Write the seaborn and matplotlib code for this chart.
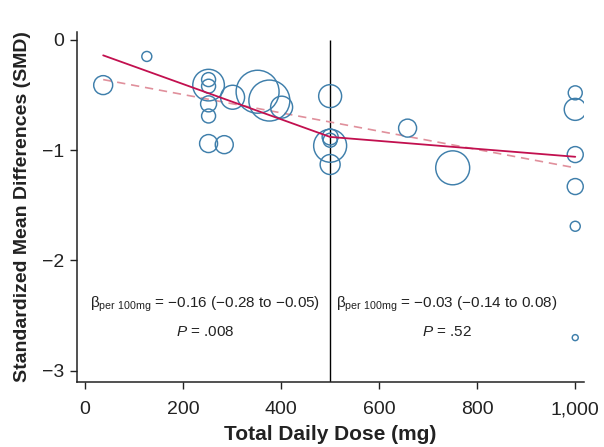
import matplotlib
matplotlib.use("Agg")
import matplotlib.pyplot as plt
import seaborn as sns
import pandas as pd
import numpy as np

# ---- data ----
dose = [37, 126, 252, 252, 252, 252, 252, 252, 284, 301, 352, 376, 401,
        500, 500, 500, 500, 500, 658, 750, 1000, 1000, 1000, 1000, 1000, 1000]
smd = [-0.41, -0.15, -0.41, -0.36, -0.42, -0.58, -0.69, -0.94, -0.95, -0.52,
       -0.47, -0.55, -0.61, -0.51, -0.88, -0.91, -0.96, -1.13, -0.80, -1.16,
       -0.48, -0.63, -1.04, -1.33, -1.69, -2.70]
weight = [90, 25, 250, 49, 49, 64, 49, 81, 81, 144, 462, 420, 121,
          132, 64, 49, 272, 100, 81, 289, 49, 121, 64, 64, 25, 9]

spline_x = [37, 500, 1000]
spline_y = [-0.14, -0.88, -1.06]
linear_x = [37, 1000]
linear_y = [-0.36, -1.16]

xticks = [0, 200, 400, 600, 800, 1000]
xticklabels = ["0", "200", "400", "600", "800", "1,000"]
yticks = [0, -1, -2, -3]
yticklabels = ["0", "\u22121", "\u22122", "\u22123"]

left_text = ["\u03b2$_{\\mathregular{per\\ 100mg}}$ = \u22120.16 (\u22120.28 to \u22120.05)", "$\\it{P}$ = .008"]
right_text = ["\u03b2$_{\\mathregular{per\\ 100mg}}$ = \u22120.03 (\u22120.14 to 0.08)", "$\\it{P}$ = .52"]

df = pd.DataFrame({"dose": dose, "smd": smd, "weight": weight})
spl = pd.DataFrame({"x": spline_x, "y": spline_y})
lin = pd.DataFrame({"x": linear_x, "y": linear_y})

sns.set_style("ticks")
plt.rcParams["font.family"] = ["Liberation Sans", "DejaVu Sans"]
plt.rcParams["mathtext.fontset"] = "custom"
plt.rcParams["mathtext.rm"] = "Liberation Sans"
plt.rcParams["mathtext.it"] = "Liberation Sans:italic"

fig = plt.figure(figsize=(6.04, 4.47), dpi=100)
ax = fig.add_axes([0.127, 0.146, 0.840, 0.782])

wmax = max(weight)
circle_color = "#3f7fab"
sns.scatterplot(data=df, x="dose", y="smd", size="weight",
                sizes=(0, 2.07 * wmax), size_norm=(0, wmax),
                facecolors="none", edgecolor=circle_color, linewidth=1.05,
                legend=False, ax=ax, zorder=3)

sns.lineplot(data=lin, x="x", y="y", color="#e0909c", linewidth=1.2,
             linestyle=(0, (5, 3.5)), ax=ax, zorder=2)
sns.lineplot(data=spl, x="x", y="y", color="#c2104f", linewidth=1.3,
             ax=ax, zorder=4)

ax.vlines(500, -3.1, 0, color="black", linewidth=1.0, zorder=1)

ax.set_xlim(-17, 1018)
ax.set_ylim(-3.1, 0.07)
ax.set_xticks(xticks)
ax.set_xticklabels(xticklabels)
ax.set_yticks(yticks)
ax.set_yticklabels(yticklabels)
ax.tick_params(axis="both", labelsize=14, length=5, width=1, color="#222222",
               labelcolor="#222222")
ax.tick_params(axis="x", pad=9)
ax.tick_params(axis="y", pad=4)

for s in ["top", "right"]:
    ax.spines[s].set_visible(False)
for s in ["left", "bottom"]:
    ax.spines[s].set_linewidth(1.1)
    ax.spines[s].set_color("#222222")

ax.set_xlabel("Total Daily Dose (mg)", fontsize=15, fontweight="bold",
              color="#222222", labelpad=5)
ax.set_ylabel("Standardized Mean Differences (SMD)", fontsize=14,
              fontweight="bold", color="#222222", labelpad=8)

ax.text(245, -2.4, left_text[0], ha="center", va="center", fontsize=11, color="#222222")
ax.text(245, -2.65, left_text[1], ha="center", va="center", fontsize=11, color="#222222")
ax.text(738, -2.4, right_text[0], ha="center", va="center", fontsize=11, color="#222222")
ax.text(738, -2.65, right_text[1], ha="center", va="center", fontsize=11, color="#222222")

fig.savefig("out.png", dpi=100)
